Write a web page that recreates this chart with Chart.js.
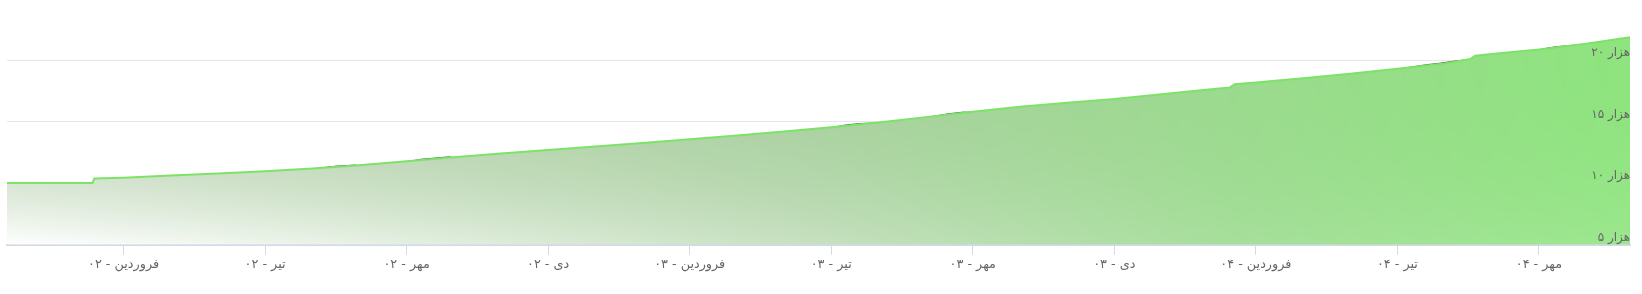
<!DOCTYPE html>
<html>
<head>
<meta charset="utf-8">
<script src="https://cdn.jsdelivr.net/npm/chart.js@4.4.1/dist/chart.umd.min.js"></script>
<style>
html,body{margin:0;padding:0;background:#fff;}
canvas{display:block;}
</style>
</head>
<body>
<canvas id="c" width="1642" height="294"></canvas>
<script>
// x = month index (0 = فروردین ۰۲), y = thousands
const months = [-2.47,-0.66,-0.62,0,1,2,3,4,5,6,7,8,9,10,11,12,13,14,15,16,17,18,19,20,21,22,23,23.45,23.55,24,25,26,27,28,28.55,28.65,29,30,31,31.93];
const values = [10.02,10.02,10.38,10.45,10.62,10.8,10.97,11.2,11.46,11.78,12.12,12.42,12.7,12.98,13.27,13.58,13.88,14.2,14.56,14.95,15.38,15.82,16.22,16.55,16.86,17.25,17.62,17.8,18.05,18.2,18.55,18.92,19.32,19.75,20.12,20.38,20.52,20.88,21.35,21.88];

const darkMonths = [-2.47,-0.66,-0.62,0,1,2,3,4,4.5,4.9,5,6,6.3,6.6,6.9,7,8,9,10,11,12,13,14,15,15.3,15.6,16,17,17.5,17.8,18,19,20,21,22,23,23.45,23.55,24,25,26,27,27.6,27.9,28.2,28.55,28.65,29,30,30.2,30.4,31,31.93];
const darkValues = [9.98,9.98,10.34,10.41,10.58,10.76,10.93,11.16,11.39,11.48,11.42,11.74,11.95,12.05,12.15,12.08,12.38,12.66,12.94,13.23,13.54,13.84,14.16,14.52,14.74,14.86,14.91,15.34,15.66,15.79,15.78,16.18,16.51,16.82,17.21,17.58,17.76,18.01,18.16,18.51,18.88,19.28,19.64,19.77,19.94,20.08,20.34,20.48,20.84,21.02,21.13,21.31,21.84];

const xTickMonths = [0,3,6,9,12,15,18,21,24,27,30];
const xTickLabels = ["فروردین - ۰۲","تیر - ۰۲","مهر - ۰۲","دی - ۰۲","فروردین - ۰۳","تیر - ۰۳","مهر - ۰۳","دی - ۰۳","فروردین - ۰۴","تیر - ۰۴","مهر - ۰۴"];
const yTickValues = [5,10,15,20];
const yTickLabels = ["۵ هزار","۱۰ هزار","۱۵ هزار","۲۰ هزار"];

const X_MIN = -2.47, X_MAX = 31.93, Y_MIN = 5, Y_MAX = 24.1;

let patternCache = null;
function fillPattern(ctx){
  const chart = ctx.chart;
  const a = chart.chartArea;
  if(!a || !chart.scales.y) return 'rgba(150,215,140,0.8)';
  const key = [a.left,a.top,a.right,a.bottom].join(',');
  if(patternCache && patternCache.key === key) return patternCache.p;
  const W = chart.width, H = chart.height;
  const off = document.createElement('canvas');
  off.width = W; off.height = H;
  const octx = off.getContext('2d');
  const img = octx.createImageData(W, H);
  const topRef = chart.scales.y.getPixelForValue(Math.max(...values));
  const stops = [[0,[190,212,182]],[0.5,[168,208,158]],[1,[142,228,126]]];
  function G(u){
    for(let i=0;i<stops.length-1;i++){
      const [t0,c0]=stops[i],[t1,c1]=stops[i+1];
      if(u<=t1){const k=(u-t0)/(t1-t0);return c0.map((c,j)=>c+(c1[j]-c)*k);}
    }
    return stops[stops.length-1][1];
  }
  for(let x=0;x<W;x++){
    let u=(x-a.left)/(a.right-a.left); u=Math.max(0,Math.min(1,u));
    const g=G(u);
    const f=Math.min(0.88,1-Math.pow(1-u,1.5));
    for(let y=0;y<H;y++){
      let v=(a.bottom-y)/(a.bottom-topRef); v=Math.max(0,Math.min(1,v));
      const gv=1-Math.pow(1-v,2.5);
      const al=1-(1-f)*(1-gv);
      const i=(y*W+x)*4;
      img.data[i]=255+(g[0]-255)*al;
      img.data[i+1]=255+(g[1]-255)*al;
      img.data[i+2]=255+(g[2]-255)*al;
      img.data[i+3]=255;
    }
  }
  octx.putImageData(img,0,0);
  const p = chart.ctx.createPattern(off,'no-repeat');
  patternCache = {key, p};
  return p;
}

const ctx = document.getElementById('c').getContext('2d');
new Chart(ctx, {
  type: 'line',
  data: {
    datasets: [
      {
        data: months.map((m,i)=>({x:m,y:values[i]})),
        borderColor: 'rgb(125,227,104)',
        borderWidth: 2,
        backgroundColor: fillPattern,
        fill: 'start',
        pointRadius: 0,
        tension: 0
      },
      {
        data: darkMonths.map((m,i)=>({x:m,y:darkValues[i]})),
        borderColor: 'rgba(45,55,60,0.85)',
        borderWidth: 1,
        fill: false,
        pointRadius: 0,
        tension: 0
      }
    ]
  },
  options: {
    responsive: false,
    animation: false,
    devicePixelRatio: 1,
    layout: { padding: { left: 7, right: 12, top: 10, bottom: 20 } },
    plugins: { legend: { display: false }, tooltip: { enabled: false } },
    scales: {
      x: {
        type: 'linear',
        min: X_MIN, max: X_MAX,
        afterBuildTicks: s => { s.ticks = xTickMonths.map(v=>({value:v})); },
        ticks: {
          autoSkip: false, maxRotation: 0,
          color: '#666',
          font: { family: "'DejaVu Sans', sans-serif", size: 12.8 },
          padding: 2,
          callback: (v) => { const i = xTickMonths.indexOf(v); return i>=0 ? xTickLabels[i] : ''; }
        },
        grid: { drawOnChartArea: false, color: '#d3d9e8', tickLength: 10, tickWidth: 1 },
        border: { color: '#d3d9e8', width: 2 }
      },
      y: {
        type: 'linear',
        position: 'right',
        min: Y_MIN, max: Y_MAX,
        afterBuildTicks: s => { s.ticks = yTickValues.map(v=>({value:v})); },
        ticks: {
          z: 1,
          mirror: true, padding: 0, labelOffset: -7,
          color: '#666',
          font: { family: "'DejaVu Sans', sans-serif", size: 12 },
          callback: (v) => { const i = yTickValues.indexOf(v); return i>=0 ? yTickLabels[i] : ''; }
        },
        grid: { color: '#e6e6e6', drawTicks: false, z: -1 },
        border: { display: false }
      }
    }
  }
});
</script>
</body>
</html>
